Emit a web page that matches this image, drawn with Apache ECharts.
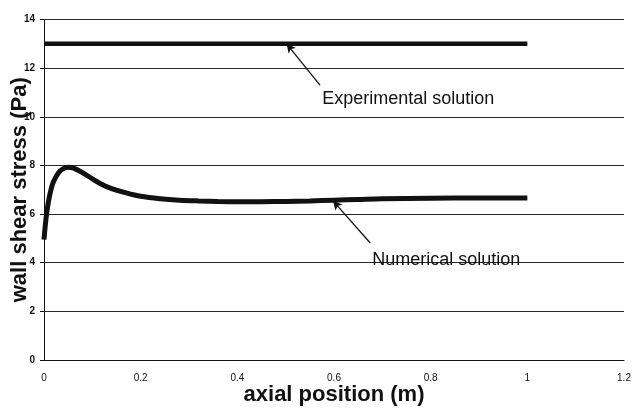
<!DOCTYPE html>
<html><head><meta charset="utf-8">
<script src="https://cdn.jsdelivr.net/npm/echarts@6/dist/echarts.min.js"></script>
<style>html,body{margin:0;padding:0;background:#fff}#c{width:632px;height:408px}</style>
</head><body><div id="c"></div>
<script>
// Numerical solution (axial position m, wall shear stress Pa)
var numX = [0, 0.003, 0.006, 0.01, 0.015, 0.02, 0.03, 0.04, 0.05, 0.06, 0.08, 0.1, 0.12, 0.14, 0.17, 0.2, 0.24, 0.28, 0.32, 0.36, 0.4, 0.45, 0.5, 0.55, 0.6, 0.65, 0.7, 0.8, 0.9, 1.0];
var numY = [4.95, 5.6, 6.1, 6.6, 7.05, 7.35, 7.7, 7.87, 7.92, 7.9, 7.7, 7.45, 7.22, 7.05, 6.87, 6.73, 6.63, 6.57, 6.54, 6.52, 6.51, 6.51, 6.52, 6.54, 6.57, 6.6, 6.63, 6.65, 6.66, 6.66];
// Experimental solution
var expX = [0, 1.0];
var expY = [13, 13];
// Axes
var xMin = 0, xMax = 1.2, xStep = 0.2;
var yMin = 0, yMax = 14, yStep = 2;
// Annotations: [text, arrow tip x, tip y, arrow tail x, tail y, text x, text y]
var annExp = ["Experimental solution", 0.502, 13, 0.571, 11.3, 0.5756, 10.73];
var annNum = ["Numerical solution", 0.598, 6.54, 0.675, 4.81, 0.679, 4.11];

function zip(a, b) { return a.map(function (v, i) { return [v, b[i]]; }); }

var chart = echarts.init(document.getElementById('c'));
var fontFam = '"Liberation Sans", Arial, sans-serif';
var ink = '#111';

function arrowLine(a) {
  return {
    silent: true, animation: false,
    symbol: ['none', 'arrow'], symbolSize: [7, 9],
    lineStyle: { color: ink, width: 1.3, type: 'solid' },
    label: { show: false },
    data: [[{ coord: [a[3], a[4]] }, { coord: [a[1], a[2]] }]]
  };
}

chart.setOption({
  animation: false,
  backgroundColor: '#fff',
  grid: { left: 44, right: 8, top: 19.5, bottom: 48, containLabel: false, outerBoundsMode: 'none' },
  xAxis: {
    type: 'value', min: xMin, max: xMax, interval: xStep,
    name: 'axial position (m)', nameLocation: 'middle', nameGap: 24, nameMoveOverlap: false,
    nameTextStyle: { fontFamily: fontFam, fontWeight: 'bold', fontSize: 22, color: ink },
    axisLine: { show: true, lineStyle: { color: ink, width: 1 } },
    axisTick: { show: false },
    splitLine: { show: false },
    axisLabel: { margin: 13, fontFamily: fontFam, fontSize: 10, color: ink,
      formatter: function (v) { return String(Math.round(v * 10) / 10); } }
  },
  yAxis: {
    type: 'value', min: yMin, max: yMax, interval: yStep,
    name: 'wall shear stress (Pa)', nameLocation: 'middle', nameGap: 13, nameRotate: 90, nameMoveOverlap: false,
    nameTextStyle: { fontFamily: fontFam, fontWeight: 'bold', fontSize: 22, color: ink },
    axisLine: { show: true, lineStyle: { color: ink, width: 1 } },
    axisTick: { show: true, length: 4, lineStyle: { color: ink } },
    splitLine: { show: true, lineStyle: { color: '#2a2a2a', width: 1 } },
    axisLabel: { margin: 9, fontFamily: fontFam, fontSize: 10, fontWeight: 'bold', color: ink }
  },
  series: [
    {
      name: 'Experimental solution', type: 'line', data: zip(expX, expY),
      showSymbol: false, lineStyle: { color: ink, width: 4.5 }, z: 3,
      markLine: arrowLine(annExp)
    },
    {
      name: 'Numerical solution', type: 'line', data: zip(numX, numY),
      showSymbol: false, smooth: 0.3, lineStyle: { color: ink, width: 5 }, z: 3,
      markLine: arrowLine(annNum)
    }
  ]
});

function placeText() {
  var g = [annExp, annNum].map(function (a) {
    var p = chart.convertToPixel({ gridIndex: 0 }, [a[5], a[6]]);
    return {
      type: 'text', x: p[0], y: p[1], silent: true,
      style: { text: a[0], fontFamily: fontFam, fontSize: 18, fill: ink,
        textAlign: 'left', textVerticalAlign: 'middle' }
    };
  });
  chart.setOption({ graphic: g });
}
placeText();
</script>
</body></html>
